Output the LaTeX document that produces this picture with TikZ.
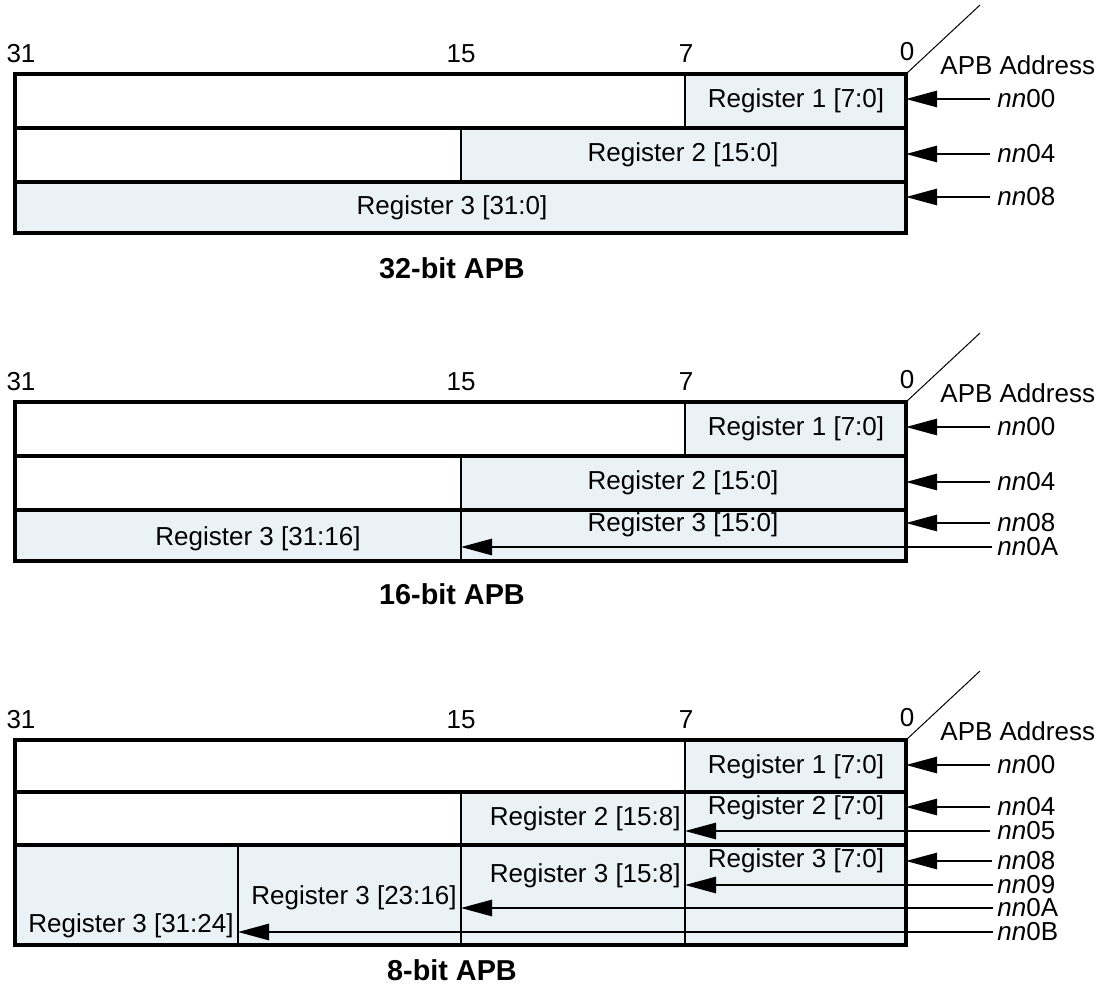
\documentclass[tikz,border=0pt]{standalone}
\usepackage{fontspec}
\setmainfont{Liberation Sans}
\usetikzlibrary{arrows.meta}
\definecolor{regfill}{RGB}{234,242,246}
\begin{document}
\begin{tikzpicture}[x=0.5pt,y=-0.5pt,
  lbl/.style={font=\fontsize{13}{15}\selectfont, inner sep=0pt},
  lble/.style={lbl, anchor=east},
  captxt/.style={font=\fontsize{14.4}{17}\selectfont\bfseries, inner sep=0pt},
  addr/.style={font=\fontsize{13}{15}\selectfont, inner sep=0pt, anchor=west},
  border/.style={line width=1.6pt},
  thindiv/.style={line width=0.75pt},
  arr/.style={line width=0.75pt, -{Triangle[length=15.5pt,width=8.2pt]}},
  diag/.style={line width=0.5pt}]
\useasboundingbox (0,0) rectangle (1102,989);

% ================= Section 1: 32-bit APB =================
\fill[regfill] (685,74) rectangle (906,128);
\fill[regfill] (461,128) rectangle (906,182);
\fill[regfill] (15,182) rectangle (906,233);
\draw[thindiv] (685,74) -- (685,128);
\draw[thindiv] (461,128) -- (461,182);
\draw[border] (15,128) -- (906,128) (15,182) -- (906,182);
\draw[border] (15,74) rectangle (906,233);
\coordinate (a1c) at (906,74);
\coordinate (a1d) at (980,5);
\draw[diag] (a1c) -- (a1d);

\node[lbl] (a1b31) at (21,54) {31};
\node[lbl] (a1b15) at (461,54) {15};
\node[lbl] (a1b7) at (686,54) {7};
\node[lbl] (a1b0) at (907,52) {0};
\node[addr] (a1addr) at (940,65) {APB Address};

\node[lbl] (a1r1) at (796,101) {Register 1 [7:0]};
\node[lbl] (a1r2) at (683,155) {Register 2 [15:0]};
\node[lbl] (a1r3) at (452,208) {Register 3 [31:0]};

\coordinate (a1s00) at (990,99);  \coordinate (a1t00) at (906,99);
\coordinate (a1s04) at (990,154); \coordinate (a1t04) at (906,154);
\coordinate (a1s08) at (990,197); \coordinate (a1t08) at (906,197);
\draw[arr] (a1s00) -- (a1t00);
\draw[arr] (a1s04) -- (a1t04);
\draw[arr] (a1s08) -- (a1t08);
\node[addr] (a1n00) at (997,99) {\textit{nn}00};
\node[addr] (a1n04) at (997,154) {\textit{nn}04};
\node[addr] (a1n08) at (997,197) {\textit{nn}08};

\node[captxt] (a1cap) at (452,268) {32-bit APB};

% ================= Section 2: 16-bit APB =================
\fill[regfill] (685,402) rectangle (906,456);
\fill[regfill] (461,456) rectangle (906,510);
\fill[regfill] (15,510) rectangle (906,561);
\draw[thindiv] (685,402) -- (685,456);
\draw[thindiv] (461,456) -- (461,561);
\draw[border] (15,456) -- (906,456) (15,510) -- (906,510);
\draw[border] (15,402) rectangle (906,561);
\coordinate (a2c) at (906,402);
\coordinate (a2d) at (980,333);
\draw[diag] (a2c) -- (a2d);

\node[lbl] (a2b31) at (21,382) {31};
\node[lbl] (a2b15) at (461,382) {15};
\node[lbl] (a2b7) at (686,382) {7};
\node[lbl] (a2b0) at (907,380) {0};
\node[addr] (a2addr) at (940,393) {APB Address};

\node[lbl] (a2r1) at (796,429) {Register 1 [7:0]};
\node[lbl] (a2r2) at (683,483) {Register 2 [15:0]};
\node[lbl] (a2r3h) at (258,539) {Register 3 [31:16]};
\node[lbl] (a2r3l) at (683,525) {Register 3 [15:0]};

\coordinate (a2s00) at (990,427); \coordinate (a2t00) at (906,427);
\coordinate (a2s04) at (990,482); \coordinate (a2t04) at (906,482);
\coordinate (a2s08) at (990,523); \coordinate (a2t08) at (906,523);
\coordinate (a2s0A) at (992,547); \coordinate (a2t0A) at (461,547);
\draw[arr] (a2s00) -- (a2t00);
\draw[arr] (a2s04) -- (a2t04);
\draw[arr] (a2s08) -- (a2t08);
\draw[arr] (a2s0A) -- (a2t0A);
\node[addr] (a2n00) at (997,427) {\textit{nn}00};
\node[addr] (a2n04) at (997,482) {\textit{nn}04};
\node[addr] (a2n08) at (997,523) {\textit{nn}08};
\node[addr] (a2n0A) at (997,547) {\textit{nn}0A};

\node[captxt] (a2cap) at (452,594) {16-bit APB};

% ================= Section 3: 8-bit APB =================
\fill[regfill] (685,740) rectangle (906,792);
\fill[regfill] (461,792) rectangle (906,845);
\fill[regfill] (15,845) rectangle (906,945);
\draw[thindiv] (685,740) -- (685,945);
\draw[thindiv] (461,792) -- (461,945);
\draw[thindiv] (238,845) -- (238,945);
\draw[border] (15,792) -- (906,792) (15,845) -- (906,845);
\draw[border] (15,740) rectangle (906,945);
\coordinate (a3c) at (906,740);
\coordinate (a3d) at (980,671);
\draw[diag] (a3c) -- (a3d);

\node[lbl] (a3b31) at (21,720) {31};
\node[lbl] (a3b15) at (461,720) {15};
\node[lbl] (a3b7) at (686,720) {7};
\node[lbl] (a3b0) at (907,718) {0};
\node[addr] (a3addr) at (940,731) {APB Address};

\node[lbl] (a3r1) at (796,767) {Register 1 [7:0]};
\node[lbl] (a3r2l) at (796,808) {Register 2 [7:0]};
\node[lble] (a3r2h) at (681,819) {Register 2 [15:8]};
\node[lbl] (a3r3a) at (796,861) {Register 3 [7:0]};
\node[lble] (a3r3b) at (681,876) {Register 3 [15:8]};
\node[lble] (a3r3c) at (457,898) {Register 3 [23:16]};
\node[lble] (a3r3d) at (234,926) {Register 3 [31:24]};

\coordinate (a3s00) at (990,765); \coordinate (a3t00) at (906,765);
\coordinate (a3s04) at (990,807); \coordinate (a3t04) at (906,807);
\coordinate (a3s05) at (990,831); \coordinate (a3t05) at (685,831);
\coordinate (a3s08) at (992,861); \coordinate (a3t08) at (906,861);
\coordinate (a3s09) at (993,885); \coordinate (a3t09) at (685,885);
\coordinate (a3s0A) at (993,908); \coordinate (a3t0A) at (461,908);
\coordinate (a3s0B) at (993,932); \coordinate (a3t0B) at (238,932);
\draw[arr] (a3s00) -- (a3t00);
\draw[arr] (a3s04) -- (a3t04);
\draw[arr] (a3s05) -- (a3t05);
\draw[arr] (a3s08) -- (a3t08);
\draw[arr] (a3s09) -- (a3t09);
\draw[arr] (a3s0A) -- (a3t0A);
\draw[arr] (a3s0B) -- (a3t0B);
\node[addr] (a3n00) at (997,765) {\textit{nn}00};
\node[addr] (a3n04) at (997,807) {\textit{nn}04};
\node[addr] (a3n05) at (997,831) {\textit{nn}05};
\node[addr] (a3n08) at (997,861) {\textit{nn}08};
\node[addr] (a3n09) at (997,885) {\textit{nn}09};
\node[addr] (a3n0A) at (997,908) {\textit{nn}0A};
\node[addr] (a3n0B) at (997,932) {\textit{nn}0B};

\node[captxt] (a3cap) at (452,970) {8-bit APB};
\end{tikzpicture}
\end{document}
